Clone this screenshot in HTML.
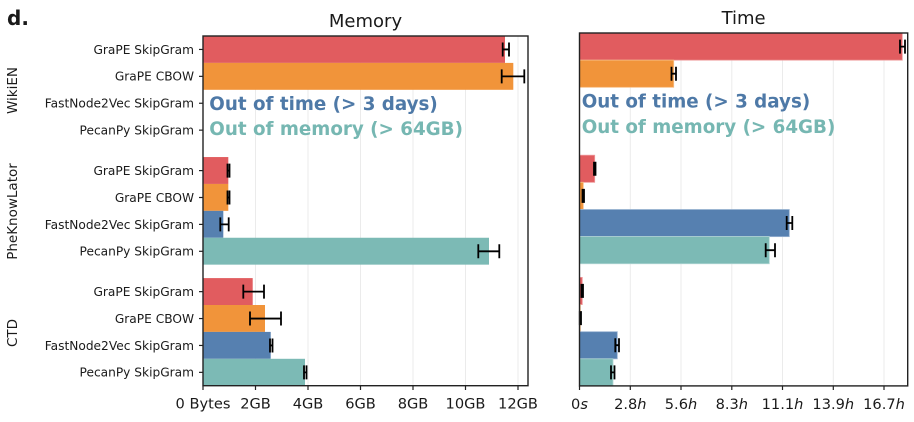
<!DOCTYPE html>
<html><head><meta charset="utf-8"><style>
html,body{margin:0;padding:0;background:#fff;}
svg{display:block;}
text{font-family:"DejaVu Sans","Liberation Sans",sans-serif;fill:#1a1a1a;}
</style></head><body>
<svg width="914" height="422" viewBox="0 0 914 422" xmlns="http://www.w3.org/2000/svg">
<rect width="914" height="422" fill="#fff"/>
<text x="7" y="25" font-size="20" font-weight="bold" fill="#000">d.</text>

<!-- Titles -->
<text x="365.5" y="27" font-size="18" text-anchor="middle">Memory</text>
<text x="743.6" y="23.8" font-size="18" text-anchor="middle">Time</text>

<!-- Memory grid -->
<g stroke="#ebebeb" stroke-width="1">
<line x1="255.5" y1="36" x2="255.5" y2="386"/>
<line x1="308" y1="36" x2="308" y2="386"/>
<line x1="360.5" y1="36" x2="360.5" y2="386"/>
<line x1="413" y1="36" x2="413" y2="386"/>
<line x1="465.5" y1="36" x2="465.5" y2="386"/>
<line x1="518" y1="36" x2="518" y2="386"/>
</g>
<!-- Time grid -->
<g stroke="#ebebeb" stroke-width="1">
<line x1="630.3" y1="33" x2="630.3" y2="386"/>
<line x1="681" y1="33" x2="681" y2="386"/>
<line x1="731.8" y1="33" x2="731.8" y2="386"/>
<line x1="782.5" y1="33" x2="782.5" y2="386"/>
<line x1="833.3" y1="33" x2="833.3" y2="386"/>
<line x1="884" y1="33" x2="884" y2="386"/>
</g>

<!-- Memory bars -->
<g>
<rect x="203" y="36" width="302" height="26.9" fill="#e15c5f"/>
<rect x="203" y="62.9" width="310.3" height="26.9" fill="#f1943a"/>
<rect x="203" y="157.05" width="25.3" height="26.9" fill="#e15c5f"/>
<rect x="203" y="183.95" width="25.3" height="26.9" fill="#f1943a"/>
<rect x="203" y="210.85" width="20.3" height="26.9" fill="#5680b0"/>
<rect x="203" y="237.75" width="286" height="26.9" fill="#7cbab5"/>
<rect x="203" y="278.1" width="49.7" height="26.9" fill="#e15c5f"/>
<rect x="203" y="305" width="62" height="26.9" fill="#f1943a"/>
<rect x="203" y="331.9" width="67.7" height="26.9" fill="#5680b0"/>
<rect x="203" y="358.8" width="102" height="26.9" fill="#7cbab5"/>
</g>

<!-- Time bars -->
<g stroke-width="0.8">
<rect x="579.5" y="33" width="322.8" height="27.15" fill="#e15c5f" stroke="#ee9a9c"/>
<rect x="579.5" y="60.15" width="94.2" height="27.15" fill="#f1943a" stroke="#f7bd84"/>
<rect x="579.5" y="155.2" width="15.2" height="27.15" fill="#e15c5f" stroke="#ee9a9c"/>
<rect x="579.5" y="182.3" width="3.8" height="27.15" fill="#f1943a" stroke="#f7bd84"/>
<rect x="579.5" y="209.5" width="209.8" height="27.15" fill="#5680b0" stroke="#9ab3d2"/>
<rect x="579.5" y="236.6" width="189.8" height="27.15" fill="#7cbab5" stroke="#b1d7d4"/>
<rect x="579.5" y="277.4" width="2.8" height="27.15" fill="#e15c5f" stroke="#ee9a9c"/>
<rect x="579.5" y="304.5" width="0.8" height="27.15" fill="#f1943a" stroke="#f7bd84"/>
<rect x="579.5" y="331.7" width="37.8" height="27.15" fill="#5680b0" stroke="#9ab3d2"/>
<rect x="579.5" y="358.8" width="33.5" height="27.15" fill="#7cbab5" stroke="#b1d7d4"/>
</g>

<!-- Error bars memory -->
<g stroke="#000" stroke-width="1.8" fill="none">
<path d="M502.7 49.45H509M502.7 42.45V56.45M509 42.45V56.45"/>
<path d="M501.7 76.35H524.3M501.7 69.35V83.35M524.3 69.35V83.35"/>
<path d="M227.5 170.6H229.5M227.5 163.6V177.6M229.5 163.6V177.6"/>
<path d="M227.5 197.5H229.5M227.5 190.5V204.5M229.5 190.5V204.5"/>
<path d="M220.3 224.4H228.7M220.3 217.4V231.4M228.7 217.4V231.4"/>
<path d="M478.3 251.3H499.3M478.3 244.3V258.3M499.3 244.3V258.3"/>
<path d="M243.3 291.65H264M243.3 284.65V298.65M264 284.65V298.65"/>
<path d="M250 318.55H281M250 311.55V325.55M281 311.55V325.55"/>
<path d="M270 345.45H272.5M270 338.45V352.45M272.5 338.45V352.45"/>
<path d="M304 372.35H306.5M304 365.35V379.35M306.5 365.35V379.35"/>
</g>
<!-- Error bars time -->
<g stroke="#000" stroke-width="1.8" fill="none">
<path d="M900 46.6H905M900 39.6V53.6M905 39.6V53.6"/>
<path d="M671.5 73.7H676M671.5 66.7V80.7M676 66.7V80.7"/>
<path d="M594 168.8H595.5M594 161.8V175.8M595.5 161.8V175.8"/>
<path d="M582.5 195.9H584M582.5 188.9V202.9M584 188.9V202.9"/>
<path d="M786.7 223H792.3M786.7 216V230M792.3 216V230"/>
<path d="M765.7 250.2H775M765.7 243.2V257.2M775 243.2V257.2"/>
<path d="M581.5 290.9H583M581.5 283.9V297.9M583 283.9V297.9"/>
<path d="M579.8 318.1H581M579.8 311.1V325.1M581 311.1V325.1"/>
<path d="M615.3 345.2H619M615.3 338.2V352.2M619 338.2V352.2"/>
<path d="M611 372.4H614.5M611 365.4V379.4M614.5 365.4V379.4"/>
</g>

<!-- Annotations -->
<g font-size="18.3" font-weight="bold">
<text x="209.3" y="110" style="fill:#4e79a7">Out of time (&gt; 3 days)</text>
<text x="209.3" y="135" style="fill:#76b7b2">Out of memory (&gt; 64GB)</text>
<text x="581.7" y="107.3" style="fill:#4e79a7">Out of time (&gt; 3 days)</text>
<text x="581.7" y="133" style="fill:#76b7b2">Out of memory (&gt; 64GB)</text>
</g>

<!-- Spines -->
<rect x="203" y="36" width="325" height="349.7" fill="none" stroke="#222" stroke-width="1.4"/>
<rect x="579.5" y="33" width="328.2" height="352.9" fill="none" stroke="#222" stroke-width="1.4"/>

<!-- X ticks -->
<g stroke="#222" stroke-width="1.2">
<line x1="203" y1="385.7" x2="203" y2="390"/>
<line x1="255.5" y1="385.7" x2="255.5" y2="390"/>
<line x1="308" y1="385.7" x2="308" y2="390"/>
<line x1="360.5" y1="385.7" x2="360.5" y2="390"/>
<line x1="413" y1="385.7" x2="413" y2="390"/>
<line x1="465.5" y1="385.7" x2="465.5" y2="390"/>
<line x1="518" y1="385.7" x2="518" y2="390"/>
<line x1="579.5" y1="385.9" x2="579.5" y2="390"/>
<line x1="630.3" y1="385.9" x2="630.3" y2="390"/>
<line x1="681" y1="385.9" x2="681" y2="390"/>
<line x1="731.8" y1="385.9" x2="731.8" y2="390"/>
<line x1="782.5" y1="385.9" x2="782.5" y2="390"/>
<line x1="833.3" y1="385.9" x2="833.3" y2="390"/>
<line x1="884" y1="385.9" x2="884" y2="390"/>
</g>
<g font-size="14.6" text-anchor="middle">
<text x="203" y="408.7">0 Bytes</text>
<text x="255.5" y="408.7">2GB</text>
<text x="308" y="408.7">4GB</text>
<text x="360.5" y="408.7">6GB</text>
<text x="413" y="408.7">8GB</text>
<text x="465.5" y="408.7">10GB</text>
<text x="518" y="408.7">12GB</text>
<text x="579.5" y="409">0<tspan font-style="italic">s</tspan></text>
<text x="630.3" y="409">2.8<tspan font-style="italic">h</tspan></text>
<text x="681" y="409">5.6<tspan font-style="italic">h</tspan></text>
<text x="731.8" y="409">8.3<tspan font-style="italic">h</tspan></text>
<text x="782.5" y="409">11.1<tspan font-style="italic">h</tspan></text>
<text x="833.3" y="409">13.9<tspan font-style="italic">h</tspan></text>
<text x="884" y="409">16.7<tspan font-style="italic">h</tspan></text>
</g>

<!-- Y ticks -->
<g stroke="#222" stroke-width="1.2">
<line x1="199" y1="49.45" x2="203" y2="49.45"/>
<line x1="199" y1="76.35" x2="203" y2="76.35"/>
<line x1="199" y1="103.25" x2="203" y2="103.25"/>
<line x1="199" y1="130.15" x2="203" y2="130.15"/>
<line x1="199" y1="170.6" x2="203" y2="170.6"/>
<line x1="199" y1="197.5" x2="203" y2="197.5"/>
<line x1="199" y1="224.4" x2="203" y2="224.4"/>
<line x1="199" y1="251.3" x2="203" y2="251.3"/>
<line x1="199" y1="291.65" x2="203" y2="291.65"/>
<line x1="199" y1="318.55" x2="203" y2="318.55"/>
<line x1="199" y1="345.45" x2="203" y2="345.45"/>
<line x1="199" y1="372.35" x2="203" y2="372.35"/>
</g>
<g font-size="12.2" text-anchor="end">
<text x="194" y="53.8">GraPE SkipGram</text>
<text x="194" y="80.7">GraPE CBOW</text>
<text x="194" y="107.6">FastNode2Vec SkipGram</text>
<text x="194" y="134.5">PecanPy SkipGram</text>
<text x="194" y="175">GraPE SkipGram</text>
<text x="194" y="201.9">GraPE CBOW</text>
<text x="194" y="228.8">FastNode2Vec SkipGram</text>
<text x="194" y="255.7">PecanPy SkipGram</text>
<text x="194" y="296">GraPE SkipGram</text>
<text x="194" y="322.9">GraPE CBOW</text>
<text x="194" y="349.8">FastNode2Vec SkipGram</text>
<text x="194" y="376.7">PecanPy SkipGram</text>
</g>

<!-- Group labels -->
<g font-size="13.5" text-anchor="middle">
<text transform="translate(17,90.5) rotate(-90)">WikiEN</text>
<text transform="translate(17,211.5) rotate(-90)">PheKnowLator</text>
<text transform="translate(17,333) rotate(-90)">CTD</text>
</g>
</svg>
</body></html>
